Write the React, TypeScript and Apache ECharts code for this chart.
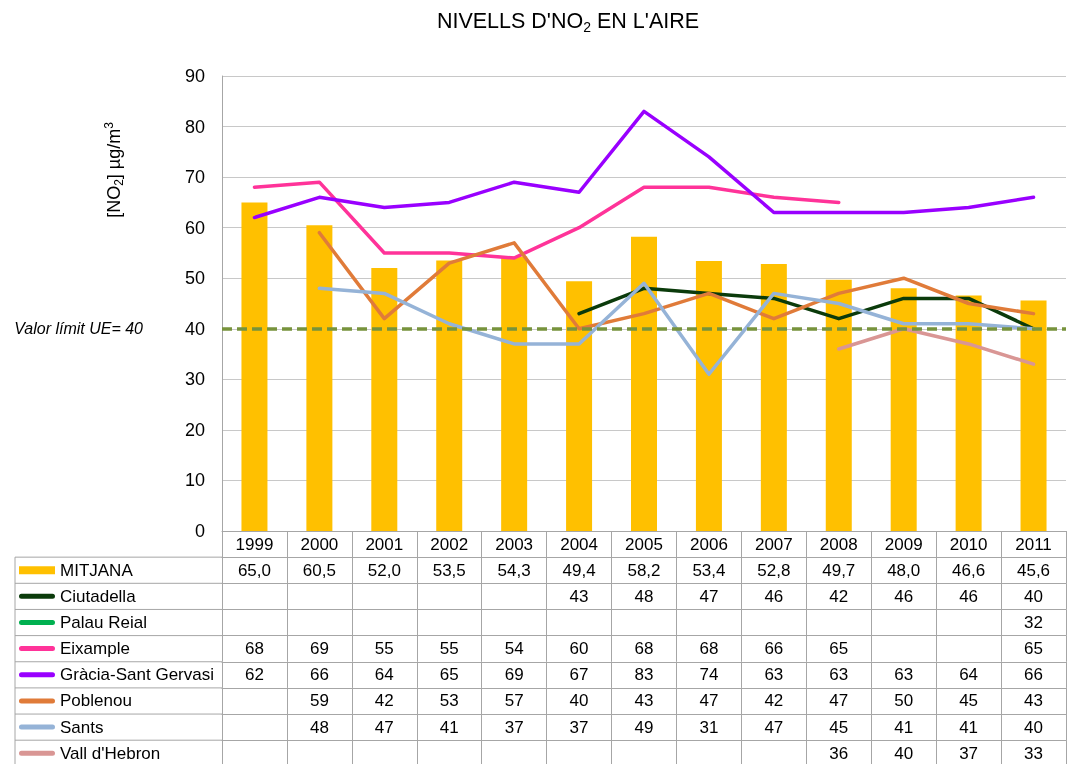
import React, { useEffect, useRef } from "react";
import * as echarts from "echarts";

const YEARS = ["1999", "2000", "2001", "2002", "2003", "2004", "2005", "2006", "2007", "2008", "2009", "2010", "2011"];
const MITJANA = [65.0, 60.5, 52.0, 53.5, 54.3, 49.4, 58.2, 53.4, 52.8, 49.7, 48.0, 46.6, 45.6];
const CIUTADELLA = [null, null, null, null, null, 43, 48, 47, 46, 42, 46, 46, 40];
const PALAU_REIAL = [null, null, null, null, null, null, null, null, null, null, null, null, 32];
const EIXAMPLE = [68, 69, 55, 55, 54, 60, 68, 68, 66, 65, null, null, 65];
const GRACIA = [62, 66, 64, 65, 69, 67, 83, 74, 63, 63, 63, 64, 66];
const POBLENOU = [null, 59, 42, 53, 57, 40, 43, 47, 42, 47, 50, 45, 43];
const SANTS = [null, 48, 47, 41, 37, 37, 49, 31, 47, 45, 41, 41, 40];
const VALL_HEBRON = [null, null, null, null, null, null, null, null, null, 36, 40, 37, 33];
const LIMIT_UE = 40;
const Y_TICKS = { min: 0, max: 90, interval: 10 };

const LINE_SERIES = [
  { name: "Ciutadella", data: CIUTADELLA, color: "#0b3b0b" },
  { name: "Palau Reial", data: PALAU_REIAL, color: "#00b050" },
  { name: "Eixample", data: EIXAMPLE, color: "#ff3399" },
  { name: "Gràcia-Sant Gervasi", data: GRACIA, color: "#9900ff" },
  { name: "Poblenou", data: POBLENOU, color: "#e07b39" },
  { name: "Sants", data: SANTS, color: "#95b3d7" },
  { name: "Vall d'Hebron", data: VALL_HEBRON, color: "#d99694" },
];

const FONT = "'Liberation Sans', Arial, sans-serif";
const BORDER = "#a6a6a6";
const GRID_LEFT = 222;
const GRID_RIGHT = 9;
const GRID_TOP = 76;
const TABLE_TOP = 531;
const ROW_H = 26.15;
const TABLE_LEFT = 15;
const W = 1075;
const H = 764;
const TABLE_FONT = 17;

function fmtMean(v: number) {
  return v.toFixed(1).replace(".", ",");
}

export default function App() {
  const ref = useRef<HTMLDivElement>(null);
  useEffect(() => {
    if (!ref.current) return;
    const chart = echarts.init(ref.current, undefined, { renderer: "svg" });

    const rows: string[][] = [
      MITJANA.map(fmtMean),
      ...LINE_SERIES.map((s) => YEARS.map((_, i) => (s.data[i] == null ? "" : String(s.data[i])))),
    ];

    const rowAxes = rows.map((row, k) => ({
      type: "category",
      gridIndex: 0,
      data: YEARS,
      position: "bottom",
      offset: ROW_H * (k + 1),
      boundaryGap: true,
      axisLine: { show: true, onZero: false, lineStyle: { color: BORDER } },
      axisTick: { show: true, length: ROW_H, interval: 0, lineStyle: { color: BORDER } },
      axisLabel: {
        interval: 0,
        margin: 4.5,
        fontSize: TABLE_FONT,
        color: "#000",
        fontFamily: FONT,
        formatter: (_v: string, i: number) => row[i] ?? "",
      },
      splitLine: { show: false },
    }));

    const labelLines: any[] = [];
    for (let k = 1; k <= rows.length; k++) {
      labelLines.push({
        type: "line",
        shape: { x1: TABLE_LEFT, y1: TABLE_TOP + ROW_H * k, x2: GRID_LEFT, y2: TABLE_TOP + ROW_H * k },
        style: { stroke: BORDER, lineWidth: 1 },
      });
    }
    labelLines.push({
      type: "line",
      shape: { x1: TABLE_LEFT, y1: TABLE_TOP + ROW_H, x2: TABLE_LEFT, y2: H },
      style: { stroke: BORDER, lineWidth: 1 },
    });

    const LINE_ICON = "path://M0,0M2.5,4.5L33.5,4.5A2.5,2.5 0 0 1 33.5,9.5L2.5,9.5A2.5,2.5 0 0 1 2.5,4.5ZM36,14";

    const option: any = {
      animation: false,
      textStyle: { fontFamily: FONT },
      grid: { left: GRID_LEFT, right: GRID_RIGHT, top: GRID_TOP, bottom: H - TABLE_TOP, containLabel: false },
      legend: {
        orient: "vertical",
        left: 19,
        top: TABLE_TOP + ROW_H,
        height: 260,
        padding: 0,
        itemGap: 0.15,
        itemWidth: 36,
        itemHeight: 14,
        selectedMode: false,
        textStyle: { fontSize: TABLE_FONT, color: "#000", lineHeight: 26, fontFamily: FONT },
        data: [
          { name: "MITJANA", icon: "path://M0,0M0,3L36,3L36,11L0,11ZM36,14" },
          ...LINE_SERIES.map((s) => ({ name: s.name, icon: LINE_ICON })),
        ],
      },
      xAxis: [
        {
          type: "category",
          data: YEARS,
          position: "bottom",
          boundaryGap: true,
          axisLine: { show: true, onZero: false, lineStyle: { color: BORDER } },
          axisTick: { show: true, length: ROW_H, interval: 0, lineStyle: { color: BORDER } },
          axisLabel: { interval: 0, margin: 4.5, fontSize: TABLE_FONT, color: "#000", fontFamily: FONT },
          splitLine: { show: false },
        },
        ...rowAxes,
      ],
      yAxis: {
        type: "value",
        min: Y_TICKS.min,
        max: Y_TICKS.max,
        interval: Y_TICKS.interval,
        axisLine: { show: true, lineStyle: { color: BORDER } },
        axisTick: { show: false },
        axisLabel: { fontSize: 18, color: "#000", margin: 17, fontFamily: FONT },
        splitLine: { show: true, lineStyle: { color: "#c8c8c8", width: 1 } },
      },
      series: [
        {
          name: "MITJANA",
          type: "bar",
          data: MITJANA,
          barWidth: 26,
          itemStyle: { color: "#ffc000" },
          z: 1,
          markLine: {
            silent: true,
            symbol: ["none", "none"],
            lineStyle: { color: "#77933c", width: 3.5, type: [10, 5] },
            label: {
              show: true,
              position: "start",
              distance: 79,
              formatter: "Valor límit UE= " + LIMIT_UE,
              fontStyle: "italic",
              fontSize: 16,
              color: "#000",
              fontFamily: FONT,
            },
            data: [{ yAxis: LIMIT_UE }],
            z: 5,
          },
        },
        ...LINE_SERIES.map((s) => ({
          name: s.name,
          type: "line",
          data: s.data,
          symbol: "none",
          showSymbol: false,
          connectNulls: false,
          lineStyle: { color: s.color, width: 3.5, cap: "round", join: "round" },
          itemStyle: { color: s.color },
          z: 3,
        })),
      ],
      graphic: [
        {
          type: "text",
          x: 568,
          y: 21,
          style: {
            text: "NIVELLS D'NO{sub|2} EN L'AIRE",
            fontSize: 21.5,
            lineHeight: 26,
            fontFamily: FONT,
            fill: "#000",
            align: "center",
            verticalAlign: "middle",
            rich: {
              sub: { fontSize: 14, lineHeight: 14, verticalAlign: "bottom", fontFamily: FONT, fill: "#000" },
            },
          },
        },
        {
          type: "text",
          x: 114,
          y: 170,
          rotation: Math.PI / 2,
          style: {
            text: "[NO{sub|2}] µg/m{sup|3}",
            fontSize: 18,
            lineHeight: 22,
            fontFamily: FONT,
            fill: "#000",
            align: "center",
            verticalAlign: "middle",
            rich: {
              sub: { fontSize: 12, lineHeight: 12, verticalAlign: "bottom", fontFamily: FONT, fill: "#000" },
              sup: { fontSize: 12, lineHeight: 12, verticalAlign: "top", fontFamily: FONT, fill: "#000" },
            },
          },
        },
        ...labelLines,
      ],
    };

    chart.setOption(option);
    return () => chart.dispose();
  }, []);

  return <div ref={ref} style={{ position: "fixed", left: 0, top: 0, width: W, height: H }} />;
}
